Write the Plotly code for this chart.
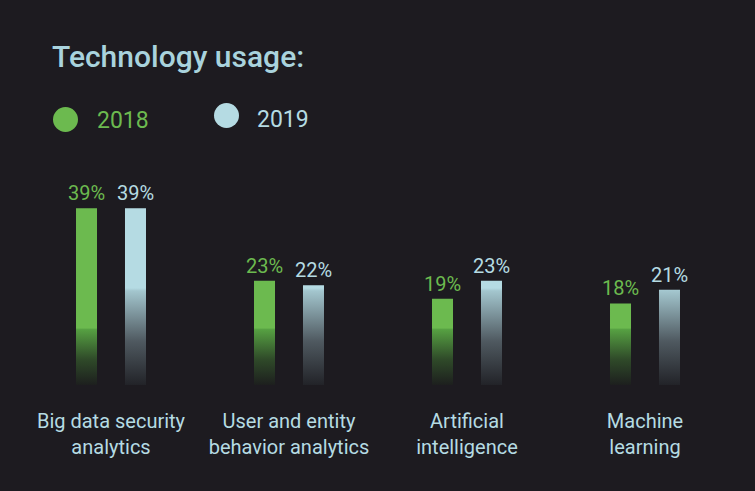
import plotly.graph_objects as go

categories = ["Big data security<br>analytics", "User and entity<br>behavior analytics",
              "Artificial<br>intelligence", "Machine<br>learning"]
years = ["2018", "2019"]
values_2018 = [39, 23, 19, 18]
values_2019 = [39, 22, 23, 21]

BG = "#1d1b20"
GREEN = "#6cba4f"
BLUE = "#b5dbe3"
TITLE_C = "#a9d3dd"
FONT = "Roboto, 'Open Sans', sans-serif"

# layout geometry (pixels)
W, H = 755, 491
ML, MR, MT, MB = 22, 21, 181, 106
PW, PH = W - ML - MR, H - MT - MB
YMAX = 45

OFFSET = 0.1376   # group offset of each bar (category units)
HALF_W = 0.059    # half bar width (category units)


def bar_polys(vals, off):
    xs, ys = [], []
    for i, v in enumerate(vals):
        x0, x1 = i + off - HALF_W, i + off + HALF_W
        xs += [x0, x0, x1, x1, x0, None]
        ys += [0, v, v, 0, 0, None]
    return xs, ys


fig = go.Figure()

series = [
    (years[0], values_2018, -OFFSET, GREEN,
     dict(type="vertical", start=0, stop=12.6,
          colorscale=[[0, "#1d1f1e"], [0.45, "#2f4a29"], [0.97, "#56a042"], [1, GREEN]])),
    (years[1], values_2019, OFFSET, BLUE,
     dict(type="vertical", start=0, stop=21.4,
          colorscale=[[0, "#222328"], [0.45, "#4f5960"], [0.97, "#a3c6ce"], [1, BLUE]])),
]

for name, vals, off, col, grad in series:
    xs, ys = bar_polys(vals, off)
    fig.add_trace(go.Scatter(
        x=xs, y=ys, mode="lines", fill="toself", fillgradient=grad,
        line=dict(width=0, color=col), name=name, showlegend=False, hoverinfo="skip"))
    for i, v in enumerate(vals):
        fig.add_annotation(x=i + off, y=v, xref="x", yref="y",
                           xanchor="center", yanchor="bottom", yshift=1,
                           showarrow=False, text=f"{v}%",
                           font=dict(family=FONT, size=20, color=col))


def px_x(px):
    return (px - ML) / PW


def px_y(py):
    return (H - MB - py) / PH


# legend (circles + labels)
for cx, cy, col, label, tx, ty in [
    (65.5, 119.5, GREEN, years[0], 95, 120),
    (226.5, 115.5, BLUE, years[1], 255, 119),
]:
    fig.add_shape(type="circle", xref="paper", yref="paper",
                  xsizemode="pixel", ysizemode="pixel",
                  xanchor=px_x(cx), yanchor=px_y(cy),
                  x0=-12.5, x1=12.5, y0=-12.5, y1=12.5,
                  fillcolor=col, line=dict(width=0))
    fig.add_annotation(xref="paper", yref="paper", x=px_x(tx), y=px_y(ty),
                       xanchor="left", yanchor="middle", showarrow=False,
                       text=label, font=dict(family=FONT, size=23, color=col))

fig.add_annotation(xref="paper", yref="paper", x=px_x(50), y=px_y(57),
                   xanchor="left", yanchor="middle", showarrow=False,
                   text="Technology usage:",
                   font=dict(family=FONT, size=30, color=TITLE_C, weight=500))

fig.update_layout(
    width=W, height=H,
    margin=dict(l=ML, r=MR, t=MT, b=MB),
    paper_bgcolor=BG, plot_bgcolor=BG,
    showlegend=False,
    xaxis=dict(range=[-0.5, 3.5], tickvals=list(range(len(categories))),
               ticktext=categories, showgrid=False, zeroline=False, showline=False,
               ticks="", ticklabelstandoff=22,
               tickfont=dict(family=FONT, size=20, color=BLUE), fixedrange=True),
    yaxis=dict(range=[0, YMAX], visible=False, fixedrange=True),
)

fig.write_html("out.html")
